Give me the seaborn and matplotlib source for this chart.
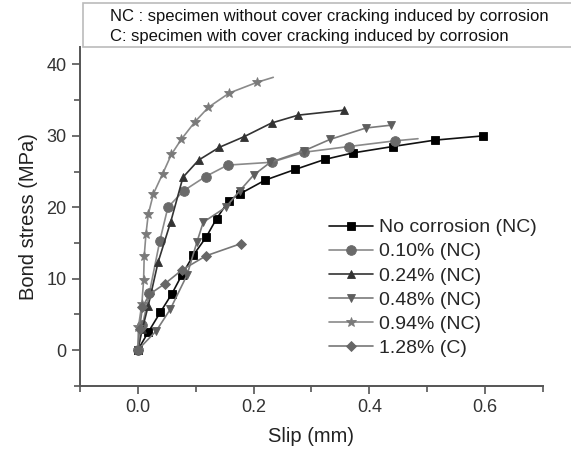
import matplotlib
matplotlib.use('Agg')
import matplotlib.pyplot as plt
import seaborn as sns
from matplotlib.ticker import MultipleLocator
from matplotlib.patches import Rectangle

# slip (mm) / bond stress (MPa)
nc_x = [0, 0.018, 0.039, 0.059, 0.076, 0.096, 0.118, 0.136, 0.157, 0.177, 0.22, 0.272, 0.323, 0.371, 0.44, 0.513, 0.597]
nc_y = [0, 2.5, 5.3, 7.9, 10.5, 13.3, 15.8, 18.4, 20.9, 21.9, 23.8, 25.3, 26.7, 27.6, 28.5, 29.4, 30.0]

c010_x = [0, 0.008, 0.02, 0.038, 0.052, 0.079, 0.117, 0.155, 0.231, 0.287, 0.364, 0.444, 0.484]
c010_y = [0, 3.5, 8.0, 15.3, 20.0, 22.3, 24.3, 25.9, 26.3, 27.7, 28.5, 29.3, 29.6]

c024_x = [0, 0.008, 0.018, 0.035, 0.057, 0.078, 0.105, 0.141, 0.184, 0.231, 0.277, 0.357]
c024_y = [0, 3.0, 6.2, 12.3, 18.0, 24.2, 26.6, 28.4, 29.9, 31.8, 32.9, 33.6]

c048_x = [0, 0.032, 0.056, 0.085, 0.102, 0.113, 0.152, 0.176, 0.2, 0.229, 0.287, 0.332, 0.394, 0.438]
c048_y = [0, 2.7, 5.7, 10.5, 15.1, 17.9, 20.0, 22.3, 24.5, 26.3, 27.9, 29.5, 31.1, 31.5]

c094_x = [0, 0.001, 0.007, 0.010, 0.011, 0.014, 0.018, 0.027, 0.043, 0.058, 0.075, 0.099, 0.122, 0.158, 0.206, 0.234]
c094_y = [0, 3.2, 6.5, 9.8, 13.1, 16.2, 19.0, 21.9, 24.7, 27.4, 29.5, 32.0, 34.0, 36.0, 37.5, 38.2]

c128_x = [0, 0.003, 0.008, 0.02, 0.047, 0.076, 0.118, 0.178]
c128_y = [0, 3.0, 6.0, 7.8, 9.3, 11.2, 13.2, 14.9]

labels = ['No corrosion (NC)', '0.10% (NC)', '0.24% (NC)', '0.48% (NC)', '0.94% (NC)', '1.28% (C)']

sns.set_style('ticks')
plt.rcParams['font.family'] = ['Liberation Sans', 'DejaVu Sans']

fig = plt.figure(figsize=(5.71, 4.57), dpi=100)
ax = fig.add_axes([0.140, 0.156, 0.811, 0.742])

series = [
    (nc_x, nc_y, 's', '#000000', '#111111', len(nc_x)),
    (c010_x, c010_y, 'o', '#6a6a6a', '#8a8a8a', len(c010_x) - 1),
    (c024_x, c024_y, '^', '#333333', '#333333', len(c024_x)),
    (c048_x, c048_y, 'v', '#5e5e5e', '#7a7a7a', len(c048_x)),
    (c094_x, c094_y, '*', '#7a7a7a', '#8a8a8a', len(c094_x) - 1),
    (c128_x, c128_y, 'D', '#666666', '#777777', len(c128_x)),
]

for (xs, ys, mk, mc, lc, nmark), lab in zip(series, labels):
    size = 7 if mk in ('*', 'o') else 6
    if mk == 'D':
        size = 5.5
    sns.lineplot(x=xs, y=ys, ax=ax, sort=False, estimator=None,
                 color=lc, linewidth=1.2, marker=mk, markersize=size,
                 markerfacecolor=mc, markeredgecolor=mc, markeredgewidth=0.6,
                 markevery=list(range(nmark)), label=lab)

ax.set_xlim(-0.1, 0.7)
ax.set_ylim(-5, 42.5)
ax.xaxis.set_major_locator(MultipleLocator(0.2))
ax.xaxis.set_minor_locator(MultipleLocator(0.1))
ax.yaxis.set_major_locator(MultipleLocator(10))
ax.yaxis.set_minor_locator(MultipleLocator(5))
ax.set_xticks([0.0, 0.2, 0.4, 0.6])
ax.set_xticklabels(['0.0', '0.2', '0.4', '0.6'])

sns.despine(ax=ax)
for s in ['left', 'bottom']:
    ax.spines[s].set_color('#555555')
    ax.spines[s].set_linewidth(1.4)
ax.tick_params(which='major', length=6, width=1.2, color='#555555', labelsize=13, labelcolor='#333333')
ax.tick_params(which='minor', length=4, width=1.2, color='#555555')

ax.set_xlabel('Slip (mm)', fontsize=14.5, color='#222222', labelpad=8)
ax.set_ylabel('Bond stress (MPa)', fontsize=14.5, color='#222222', labelpad=6)

ax.legend(loc='upper left', bbox_to_anchor=(0.52, 0.515), frameon=False,
          fontsize=14, labelspacing=0.33, handlelength=2.3, handletextpad=0.3,
          borderaxespad=0)

# note box at the top, running off the right edge
fig.patches.append(Rectangle((83 / 571, 1 - 47 / 457), 0.9, 44 / 457,
                             transform=fig.transFigure, facecolor='white',
                             edgecolor='#bbbbbb', linewidth=1.2, zorder=5))
fig.text(110 / 571, 1 - 17 / 457, 'NC : specimen without cover cracking induced by corrosion',
         fontsize=12, color='#111111', va='center', ha='left', zorder=6)
fig.text(110 / 571, 1 - 37 / 457, 'C: specimen with cover cracking induced by corrosion',
         fontsize=12, color='#111111', va='center', ha='left', zorder=6)

fig.savefig('out.png', dpi=100)
